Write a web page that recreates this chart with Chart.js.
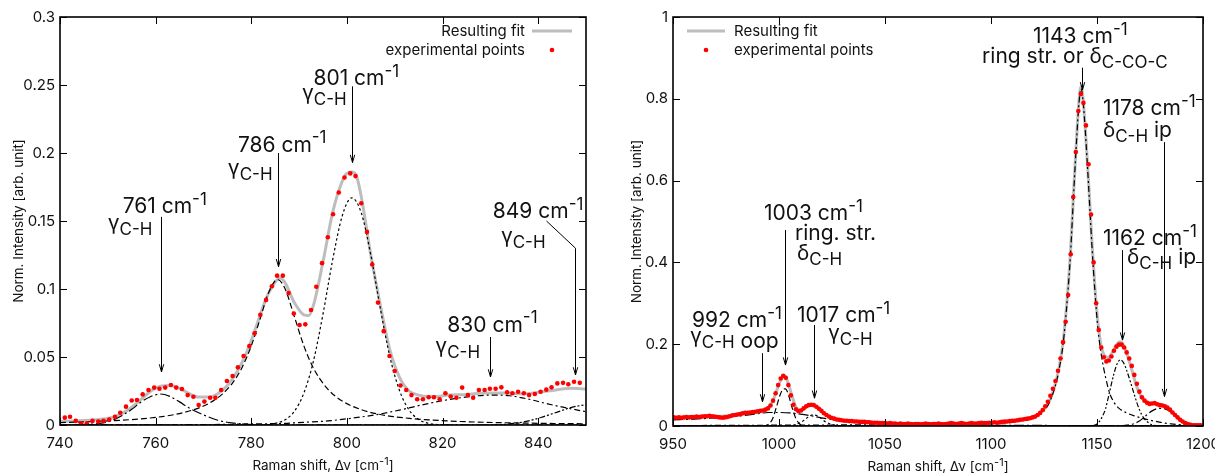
<!DOCTYPE html>
<html lang="en">
<head>
<meta charset="utf-8">
<title>Raman band fit</title>
<script src="https://cdn.jsdelivr.net/npm/chart.js@4.4.1/dist/chart.umd.min.js"></script>
<style>
  html, body { margin: 0; padding: 0; background: #fff; }
  #wrap { position: relative; width: 1215px; height: 475px; overflow: hidden; }
  #c1 { position: absolute; left: 0; top: 0; }
  #c2 { position: absolute; left: 607px; top: 0; }
</style>
</head>
<body>
<div id="wrap">
  <canvas id="c1" width="607" height="475"></canvas>
  <canvas id="c2" width="608" height="475"></canvas>
</div>
<script>
/* ═══════════════════════════════════════════════
   Raman shift fits — two panels (740–850, 950–1200 cm-1)
   experimental points, resulting fit and fitted bands
═══════════════════════════════════════════════ */

const FONT = 'Inter, "Noto Sans", sans-serif';
const INK  = '#111';
const NOTE_SIZE = 21;

// ── Left panel: axes ─────────────────────────────────────────
const leftXRange  = [740, 850];
const leftYRange  = [0, 0.3];
const leftXTicks  = [740, 760, 780, 800, 820, 840];
const leftXLabels = ['740', '760', '780', '800', '820', '840'];
const leftYTicks  = [0, 0.05, 0.1, 0.15, 0.2, 0.25, 0.3];
const leftYLabels = ['0', '0.05', '0.1', '0.15', '0.2', '0.25', '0.3'];

// ── Left panel: experimental points ──────────────────────────
const leftExpX = [
  741.0, 742.1, 743.3, 744.4, 745.6, 746.8, 748.0, 749.1, 750.3, 751.5,
  752.6, 753.8, 755.0, 756.1, 757.3, 758.5, 759.7, 760.8, 762.0, 763.2,
  764.3, 765.5, 766.7, 767.9, 769.0, 770.2, 771.4, 772.5, 773.7, 774.9,
  776.1, 777.2, 778.4, 779.6, 780.7, 781.9, 783.1, 784.3, 785.4, 786.6,
  787.8, 788.9, 790.1, 791.3, 792.5, 793.6, 794.8, 796.0, 797.1, 798.3,
  799.5, 800.7, 801.8, 803.0, 804.2, 805.3, 806.5, 807.7, 808.9, 810.0,
  811.2, 812.4, 813.5, 814.7, 815.9, 817.1, 818.2, 819.4, 820.6, 821.7,
  822.9, 824.1, 825.3, 826.4, 827.6, 828.8, 829.9, 831.1, 832.3, 833.5,
  834.6, 835.8, 837.0, 838.1, 839.3, 840.5, 841.7, 842.8, 844.0, 845.2,
  846.3, 847.5, 848.7
];
const leftExpY = [
  0.0054, 0.0061, 0.0030, 0.0012, 0.0012, 0.0030, 0.0025, 0.0030, 0.0040, 0.0060,
  0.0090, 0.0135, 0.0180, 0.0184, 0.0225, 0.0257, 0.0275, 0.0267, 0.0275, 0.0294,
  0.0275, 0.0265, 0.0220, 0.0208, 0.0147, 0.0172, 0.0200, 0.0200, 0.0257, 0.0324,
  0.0360, 0.0424, 0.0507, 0.0580, 0.0674, 0.0810, 0.0920, 0.1020, 0.1098, 0.1098,
  0.0970, 0.0820, 0.0735, 0.0740, 0.0846, 0.1017, 0.1190, 0.1380, 0.1550, 0.1710,
  0.1820, 0.1850, 0.1830, 0.1630, 0.1420, 0.1180, 0.0900, 0.0690, 0.0507, 0.0397,
  0.0290, 0.0257, 0.0220, 0.0189, 0.0189, 0.0204, 0.0204, 0.0189, 0.0233, 0.0210,
  0.0200, 0.0275, 0.0220, 0.0200, 0.0257, 0.0257, 0.0267, 0.0267, 0.0277, 0.0240,
  0.0233, 0.0245, 0.0233, 0.0220, 0.0228, 0.0245, 0.0260, 0.0277, 0.0306, 0.0310,
  0.0300, 0.0318, 0.0310
];

// ── Left panel: resulting fit ────────────────────────────────
const leftFitX = [
  740, 743, 746, 749, 751, 753, 755, 757, 759, 761,
  763, 765, 767, 769, 771, 773, 775, 777, 779, 781,
  783, 785, 786, 787, 789, 791, 792, 793, 795, 797,
  799, 800, 801, 802, 803, 805, 807, 809, 811, 813,
  815, 817, 819, 821, 825, 829, 833, 837, 841, 844,
  847, 850
];
const leftFitY = [
  0.0025, 0.003, 0.0035, 0.0045, 0.0055, 0.0085, 0.013, 0.019, 0.025, 0.0285,
  0.029, 0.027, 0.023, 0.0205, 0.0205, 0.023, 0.029, 0.039, 0.053, 0.072,
  0.092, 0.105, 0.108, 0.105, 0.090, 0.081, 0.0805, 0.088, 0.120, 0.156,
  0.179, 0.185, 0.186, 0.183, 0.168, 0.125, 0.088, 0.055, 0.035, 0.025,
  0.022, 0.021, 0.021, 0.022, 0.0225, 0.0235, 0.0235, 0.023, 0.0245, 0.026,
  0.027, 0.0265
];

// ── Left panel: fitted bands ─────────────────────────────────
const left761X = [740, 742, 746, 749, 751, 753, 755, 757, 759, 761, 763, 765, 767, 769, 771, 773, 775, 778, 782, 786, 850];
const left761Y = [0, 0, 0.0005, 0.0015, 0.0035, 0.007, 0.0115, 0.017, 0.021, 0.0228, 0.021, 0.017, 0.0125, 0.009, 0.006, 0.0035, 0.002, 0.0008, 0.0002, 0, 0];

const left786X = [740, 745, 750, 755, 760, 764, 768, 771, 774, 776, 778, 780, 782, 783.5, 785.5, 787, 789, 791, 793, 796, 799, 803, 807, 813, 821, 831, 841, 850];
const left786Y = [0.0018, 0.0023, 0.003, 0.004, 0.0056, 0.0077, 0.0113, 0.0156, 0.0229, 0.0305, 0.0418, 0.0582, 0.0798, 0.0963, 0.107, 0.1007, 0.0798, 0.0582, 0.0418, 0.0264, 0.0177, 0.0113, 0.0077, 0.0049, 0.003, 0.0018, 0.0012, 0.0009];

const left801X = [740, 781, 783, 785, 787, 789, 791, 793, 795, 797, 799, 801, 803, 805, 807, 809, 811, 813, 815, 817, 819, 822, 850];
const left801Y = [0, 0, 0.0003, 0.0012, 0.0037, 0.010, 0.0235, 0.047, 0.0816, 0.121, 0.1535, 0.167, 0.156, 0.125, 0.0855, 0.050, 0.0254, 0.011, 0.0041, 0.0013, 0.0003, 0, 0];

const left830X = [740, 770, 780, 787, 791, 796, 801, 806, 811, 816, 821, 826, 830, 834, 838, 842, 846, 850];
const left830Y = [0, 0.0003, 0.0008, 0.0012, 0.002, 0.003, 0.005, 0.0075, 0.011, 0.015, 0.0185, 0.021, 0.022, 0.0215, 0.019, 0.0155, 0.0125, 0.0098];

const left849X = [740, 830, 835, 838, 841, 844, 847, 850];
const left849Y = [0, 0, 0.0012, 0.003, 0.006, 0.0095, 0.013, 0.015];

// ── Right panel: axes ────────────────────────────────────────
const rightXRange  = [950, 1200];
const rightYRange  = [0, 1];
const rightXTicks  = [950, 1000, 1050, 1100, 1150, 1200];
const rightXLabels = ['950', '1000', '1050', '1100', '1150', '1200'];
const rightYTicks  = [0, 0.2, 0.4, 0.6, 0.8, 1];
const rightYLabels = ['0', '0.2', '0.4', '0.6', '0.8', '1'];

// ── Right panel: experimental points ─────────────────────────
const rightExpX = [
  950.4, 951.6, 952.8, 954.0, 955.2, 956.4, 957.6, 958.8, 960.0, 961.2,
  962.4, 963.6, 964.8, 966.0, 967.2, 968.4, 969.6, 970.8, 972.0, 973.2,
  974.4, 975.6, 976.8, 978.0, 979.2, 980.4, 981.6, 982.8, 984.0, 985.2,
  986.4, 987.6, 988.8, 990.0, 991.2, 992.4, 993.6, 994.8, 996.0, 997.2,
  998.4, 999.6, 1000.8, 1002.0, 1003.2, 1004.4, 1005.6, 1006.8, 1008.0, 1009.2,
  1010.4, 1011.6, 1012.8, 1014.0, 1015.2, 1016.4, 1017.6, 1018.8, 1020.0, 1021.2,
  1022.4, 1023.6, 1024.8, 1026.0, 1027.2, 1028.4, 1029.6, 1030.8, 1032.0, 1033.2,
  1034.4, 1035.6, 1036.8, 1038.0, 1039.2, 1040.4, 1041.6, 1042.8, 1044.0, 1045.2,
  1046.4, 1047.6, 1048.8, 1050.0, 1051.2, 1052.4, 1053.6, 1054.8, 1056.0, 1057.2,
  1058.4, 1059.6, 1060.8, 1062.0, 1063.2, 1064.4, 1065.6, 1066.8, 1068.0, 1069.2,
  1070.4, 1071.6, 1072.8, 1074.0, 1075.2, 1076.4, 1077.6, 1078.8, 1080.0, 1081.2,
  1082.4, 1083.6, 1084.8, 1086.0, 1087.2, 1088.4, 1089.6, 1090.8, 1092.0, 1093.2,
  1094.4, 1095.6, 1096.8, 1098.0, 1099.2, 1100.4, 1101.6, 1102.8, 1104.0, 1105.2,
  1106.4, 1107.6, 1108.8, 1110.0, 1111.2, 1112.4, 1113.6, 1114.8, 1116.0, 1117.2,
  1118.4, 1119.6, 1120.8, 1122.0, 1123.2, 1124.4, 1125.6, 1126.8, 1128.0, 1129.2,
  1130.4, 1131.6, 1132.8, 1134.0, 1135.2, 1136.4, 1137.6, 1138.8, 1140.0, 1141.2,
  1142.4, 1143.6, 1144.8, 1146.0, 1147.2, 1148.4, 1149.6, 1150.8, 1152.0, 1153.2,
  1154.4, 1155.6, 1156.8, 1158.0, 1159.2, 1160.4, 1161.6, 1162.8, 1164.0, 1165.2,
  1166.4, 1167.6, 1168.8, 1170.0, 1171.2, 1172.4, 1173.6, 1174.8, 1176.0, 1177.2,
  1178.4, 1179.6, 1180.8, 1182.0, 1183.2, 1184.4, 1185.6, 1186.8, 1188.0, 1189.2,
  1190.4, 1191.6, 1192.8, 1194.0, 1195.2, 1196.4, 1197.6, 1198.8
];
const rightExpY = [
  0.021, 0.020, 0.021, 0.020, 0.021, 0.022, 0.021, 0.022, 0.022, 0.023,
  0.022, 0.023, 0.024, 0.024, 0.025, 0.024, 0.023, 0.022, 0.021, 0.020,
  0.021, 0.022, 0.024, 0.026, 0.027, 0.028, 0.029, 0.031, 0.032, 0.032,
  0.033, 0.034, 0.035, 0.036, 0.037, 0.038, 0.040, 0.043, 0.050, 0.062,
  0.080, 0.100, 0.116, 0.123, 0.118, 0.100, 0.075, 0.052, 0.041, 0.036,
  0.038, 0.043, 0.048, 0.051, 0.052, 0.051, 0.047, 0.042, 0.037, 0.031,
  0.027, 0.023, 0.020, 0.018, 0.016, 0.015, 0.014, 0.013, 0.013, 0.012,
  0.012, 0.011, 0.011, 0.010, 0.010, 0.010, 0.009, 0.009, 0.008, 0.008,
  0.008, 0.007, 0.007, 0.007, 0.006, 0.007, 0.006, 0.006, 0.005, 0.006,
  0.005, 0.005, 0.006, 0.005, 0.004, 0.005, 0.005, 0.004, 0.005, 0.006,
  0.005, 0.004, 0.005, 0.005, 0.006, 0.005, 0.004, 0.005, 0.006, 0.007,
  0.006, 0.005, 0.006, 0.007, 0.006, 0.005, 0.006, 0.007, 0.006, 0.006,
  0.007, 0.008, 0.007, 0.007, 0.008, 0.008, 0.009, 0.008, 0.009, 0.010,
  0.011, 0.011, 0.012, 0.013, 0.013, 0.014, 0.015, 0.016, 0.017, 0.018,
  0.019, 0.021, 0.023, 0.027, 0.032, 0.039, 0.048, 0.059, 0.074, 0.091,
  0.110, 0.135, 0.165, 0.205, 0.255, 0.320, 0.420, 0.560, 0.670, 0.770,
  0.812, 0.790, 0.735, 0.640, 0.517, 0.400, 0.300, 0.235, 0.192, 0.168,
  0.158, 0.160, 0.170, 0.184, 0.194, 0.199, 0.199, 0.192, 0.180, 0.165,
  0.147, 0.125, 0.103, 0.084, 0.070, 0.062, 0.057, 0.054, 0.055, 0.056,
  0.053, 0.051, 0.050, 0.048, 0.045, 0.040, 0.033, 0.027, 0.021, 0.015,
  0.011, 0.007, 0.005, 0.003, 0.002, 0.002, 0.002, 0.002
];

// ── Right panel: resulting fit ───────────────────────────────
const rightFitX = [
  950, 960, 970, 980, 985, 990, 993, 995, 997, 999,
  1001, 1002.5, 1004, 1006, 1008, 1010, 1012, 1014, 1016, 1018,
  1020, 1022, 1025, 1030, 1040, 1050, 1070, 1090, 1100, 1110,
  1115, 1120, 1124, 1127, 1130, 1132, 1134, 1136, 1137.5, 1139,
  1140.5, 1141.5, 1142.5, 1143.5, 1144.5, 1146, 1147.5, 1149, 1150.5, 1152,
  1154, 1155.5, 1157, 1159, 1160.8, 1162.5, 1164, 1166, 1168, 1170,
  1172, 1174, 1176, 1178, 1180, 1182, 1184, 1186, 1188, 1190,
  1193, 1196, 1200
];
const rightFitY = [
  0.018, 0.021, 0.023, 0.027, 0.031, 0.035, 0.039, 0.045, 0.060, 0.088,
  0.114, 0.123, 0.110, 0.076, 0.046, 0.039, 0.044, 0.050, 0.051, 0.047,
  0.038, 0.028, 0.019, 0.014, 0.010, 0.007, 0.006, 0.006, 0.008, 0.011,
  0.015, 0.022, 0.035, 0.055, 0.097, 0.14, 0.205, 0.315, 0.425, 0.575,
  0.715, 0.795, 0.83, 0.795, 0.725, 0.6, 0.46, 0.34, 0.25, 0.195,
  0.17, 0.168, 0.178, 0.197, 0.206, 0.198, 0.178, 0.145, 0.108, 0.080,
  0.064, 0.058, 0.055, 0.054, 0.052, 0.049, 0.042, 0.032, 0.022, 0.013,
  0.006, 0.003, 0.002
];

// ── Right panel: fitted bands ────────────────────────────────
const right992X = [950, 960, 970, 980, 990, 995, 1000, 1005, 1010, 1015, 1020, 1030, 1040, 1050, 1070, 1100, 1150, 1200];
const right992Y = [0.015, 0.017, 0.020, 0.024, 0.030, 0.033, 0.033, 0.032, 0.029, 0.025, 0.020, 0.013, 0.009, 0.006, 0.004, 0.002, 0.001, 0.0005];

const right1003X = [950, 993, 995, 997, 999, 1000.5, 1002, 1003, 1004.5, 1006, 1008, 1010, 1012, 1200];
const right1003Y = [0, 0, 0.004, 0.018, 0.050, 0.076, 0.090, 0.091, 0.076, 0.048, 0.018, 0.004, 0, 0];

const right1017X = [950, 1004, 1007, 1010, 1012, 1014, 1016, 1018, 1020, 1022, 1025, 1028, 1032, 1200];
const right1017Y = [0, 0, 0.002, 0.008, 0.015, 0.023, 0.027, 0.025, 0.018, 0.010, 0.004, 0.001, 0, 0];

const right1143X = [950, 1000, 1050, 1080, 1100, 1110, 1115, 1120, 1124, 1127, 1130, 1132, 1134, 1136, 1137.5, 1139, 1140.5, 1141.5, 1142.5, 1143.5, 1144.5, 1146, 1147.5, 1149, 1150.5, 1152, 1154, 1156, 1158, 1160, 1164, 1168, 1172, 1176, 1180, 1185, 1190, 1200];
const right1143Y = [0.001, 0.002, 0.003, 0.004, 0.006, 0.009, 0.013, 0.020, 0.033, 0.052, 0.092, 0.135, 0.200, 0.310, 0.420, 0.570, 0.710, 0.790, 0.825, 0.790, 0.720, 0.590, 0.450, 0.330, 0.235, 0.175, 0.120, 0.080, 0.058, 0.045, 0.032, 0.024, 0.018, 0.013, 0.009, 0.005, 0.003, 0.001];

const right1162X = [950, 1146, 1150, 1152, 1154, 1156, 1158, 1159.5, 1161, 1162.5, 1164, 1166, 1168, 1170, 1172, 1174, 1176, 1179, 1185, 1200];
const right1162Y = [0, 0, 0.005, 0.018, 0.042, 0.085, 0.128, 0.152, 0.162, 0.155, 0.136, 0.104, 0.070, 0.040, 0.020, 0.009, 0.003, 0.0005, 0, 0];

const right1178X = [950, 1160, 1164, 1167, 1170, 1173, 1176, 1179, 1182, 1185, 1188, 1191, 1194, 1197, 1200];
const right1178Y = [0, 0, 0.002, 0.005, 0.012, 0.025, 0.037, 0.043, 0.042, 0.034, 0.021, 0.009, 0.003, 0.001, 0];

// ── Band labels (text anchors and arrows in data units) ─────
const leftNotes = [
  { lines: [ { x: 753.1, y: 0.1556, segs: [['761 cm'], ['-1', 'sup']] },
             { x: 750.0, y: 0.1434, segs: [['γ'], ['C-H', 'sub']] } ],
    arrow: [[761.1, 0.153], [761.1, 0.039]] },
  { lines: [ { x: 777.2, y: 0.201, segs: [['786 cm'], ['-1', 'sup']] },
             { x: 775.1, y: 0.1838, segs: [['γ'], ['C-H', 'sub']] } ],
    arrow: [[785.6, 0.200], [785.6, 0.1164]] },
  { lines: [ { x: 793.0, y: 0.250, segs: [['801 cm'], ['-1', 'sup']] },
             { x: 790.6, y: 0.239, segs: [['γ'], ['C-H', 'sub']] } ],
    arrow: [[801.1, 0.249], [801.1, 0.193]] },
  { lines: [ { x: 830.5, y: 0.152, segs: [['849 cm'], ['-1', 'sup']] },
             { x: 832.2, y: 0.1338, segs: [['γ'], ['C-H', 'sub']] } ],
    arrow: [[841.6, 0.150], [847.6, 0.130], [847.6, 0.0368]] },
  { lines: [ { x: 821.0, y: 0.0686, segs: [['830 cm'], ['-1', 'sup']] },
             { x: 818.5, y: 0.0529, segs: [['γ'], ['C-H', 'sub']] } ],
    arrow: [[830.0, 0.0647], [830.0, 0.0353]] }
];

const rightNotes = [
  { lines: [ { x: 1119.8, y: 0.936, segs: [['1143 cm'], ['-1', 'sup']] },
             { x: 1095.8, y: 0.8875, segs: [['ring str. or δ'], ['C-CO-C', 'sub']] } ],
    arrow: [[1142.8, 0.876], [1142.8, 0.822]] },
  { lines: [ { x: 1152.8, y: 0.760, segs: [['1178 cm'], ['-1', 'sup']] },
             { x: 1152.8, y: 0.7066, segs: [['δ'], ['C-H', 'sub'], [' ip']] } ],
    arrow: [[1181.6, 0.694], [1181.6, 0.072]] },
  { lines: [ { x: 1152.8, y: 0.4425, segs: [['1162 cm'], ['-1', 'sup']] },
             { x: 1164.2, y: 0.396, segs: [['δ'], ['C-H', 'sub'], [' ip']] } ],
    arrow: [[1161.6, 0.430], [1161.6, 0.210]] },
  { lines: [ { x: 992.9, y: 0.5037, segs: [['1003 cm'], ['-1', 'sup']] },
             { x: 1007.5, y: 0.4548, segs: [['ring. str.']] },
             { x: 1008.5, y: 0.406, segs: [['δ'], ['C-H', 'sub']] } ],
    arrow: [[1002.8, 0.479], [1002.8, 0.149]] },
  { lines: [ { x: 959.0, y: 0.242, segs: [['992 cm'], ['-1', 'sup']] },
             { x: 958.0, y: 0.203, segs: [['γ'], ['C-H', 'sub'], [' oop', 'low']] } ],
    arrow: [[992.1, 0.178], [992.1, 0.059]] },
  { lines: [ { x: 1008.5, y: 0.254, segs: [['1017 cm'], ['-1', 'sup']] },
             { x: 1023.1, y: 0.210, segs: [['γ'], ['C-H', 'sub']] } ],
    arrow: [[1016.7, 0.247], [1016.7, 0.068]] }
];

// ── Helpers ──────────────────────────────────────────────────

function points(xs, ys) {
  return xs.map((x, i) => ({ x: x, y: ys[i] }));
}

function bandSet(xs, ys, dash) {
  return {
    data: points(xs, ys),
    showLine: true,
    borderColor: '#000',
    borderWidth: 1.2,
    borderDash: dash,
    pointRadius: 0,
    cubicInterpolationMode: 'monotone',
    order: 1
  };
}

function fitSet(xs, ys) {
  return {
    label: 'Resulting fit',
    legendRank: 0,
    data: points(xs, ys),
    showLine: true,
    borderColor: '#bdbdbd',
    borderWidth: 3,
    pointRadius: 0,
    cubicInterpolationMode: 'monotone',
    order: 2
  };
}

function expSet(xs, ys) {
  return {
    label: 'experimental points',
    legendRank: 1,
    data: points(xs, ys),
    showLine: false,
    pointRadius: 2.3,
    backgroundColor: '#ff0000',
    borderWidth: 0,
    order: 0
  };
}

/**
 * Text with gnuplot-like sub/superscripts.
 * segs = [[text, kind], ...] where kind is 'sub', 'sup', 'low' (full size, sub baseline) or empty
 */
function drawRich(ctx, segs, x, y, size, align) {
  const small = Math.round(size * 0.82);
  const parts = segs.map(s => ({ t: s[0], k: s[1], fs: (s[1] === 'sub' || s[1] === 'sup') ? small : size }));
  let w = 0;
  parts.forEach(p => { ctx.font = p.fs + 'px ' + FONT; p.w = ctx.measureText(p.t).width; w += p.w; });
  let cx = align === 'center' ? x - w / 2 : align === 'right' ? x - w : x;
  ctx.textAlign = 'left';
  ctx.textBaseline = 'alphabetic';
  parts.forEach(p => {
    ctx.font = p.fs + 'px ' + FONT;
    const dy = (p.k === 'sub' || p.k === 'low') ? size * 0.25 : p.k === 'sup' ? -size * 0.4 : 0;
    ctx.fillText(p.t, cx, y + dy);
    cx += p.w;
  });
}

// Frame, inward ticks, labels, legend and band notes
function makeDecor(cfg) {
  return {
    id: 'decor',
    afterDatasetsDraw(chart) {
      const { ctx, chartArea: a } = chart;
      const X = v => chart.scales.x.getPixelForValue(v);
      const Y = v => chart.scales.y.getPixelForValue(v);
      ctx.save();
      ctx.setLineDash([]);
      ctx.strokeStyle = '#000';

      // ticks on all four sides, pointing in
      ctx.lineWidth = 1;
      ctx.beginPath();
      cfg.xTicks.forEach(v => {
        const px = Math.round(X(v)) + 0.5;
        ctx.moveTo(px, a.bottom); ctx.lineTo(px, a.bottom - 7);
        ctx.moveTo(px, a.top);    ctx.lineTo(px, a.top + 7);
      });
      cfg.yTicks.forEach(v => {
        const py = Math.round(Y(v)) + 0.5;
        ctx.moveTo(a.left, py);  ctx.lineTo(a.left + 7, py);
        ctx.moveTo(a.right, py); ctx.lineTo(a.right - 7, py);
      });
      ctx.stroke();
      ctx.lineWidth = 1.6;
      ctx.strokeRect(a.left, a.top, a.right - a.left, a.bottom - a.top);

      // tick labels
      ctx.fillStyle = INK;
      ctx.font = '15px ' + FONT;
      ctx.textAlign = 'center';
      ctx.textBaseline = 'alphabetic';
      cfg.xTicks.forEach((v, i) => ctx.fillText(cfg.xLabels[i], X(v), a.bottom + 23));
      ctx.textAlign = 'right';
      ctx.textBaseline = 'middle';
      cfg.yTicks.forEach((v, i) => ctx.fillText(cfg.yLabels[i], a.left - 5, Y(v)));

      // axis titles
      drawRich(ctx, [['Raman shift, Δν [cm'], ['-1', 'sup'], [']']], (a.left + a.right) / 2, a.bottom + 45, 13.5, 'center');
      ctx.save();
      ctx.translate(cfg.titleX, (a.top + a.bottom) / 2);
      ctx.rotate(-Math.PI / 2);
      ctx.font = '13.5px ' + FONT;
      ctx.textAlign = 'center';
      ctx.textBaseline = 'middle';
      ctx.fillText('Norm. Intensity [arb. unit]', 0, 0);
      ctx.restore();

      // legend: fit first, then points
      const items = chart.data.datasets
        .filter(d => d.legendRank !== undefined)
        .sort((p, q) => p.legendRank - q.legendRank);
      items.forEach((d, i) => {
        const yy = cfg.legend.y + i * cfg.legend.dy;
        ctx.fillStyle = INK;
        ctx.font = '15px ' + FONT;
        ctx.textBaseline = 'middle';
        ctx.textAlign = cfg.legend.align;
        ctx.fillText(d.label, cfg.legend.textX, yy);
        if (d.showLine) {
          ctx.strokeStyle = d.borderColor;
          ctx.lineWidth = d.borderWidth;
          ctx.beginPath();
          ctx.moveTo(cfg.legend.s1, yy); ctx.lineTo(cfg.legend.s2, yy);
          ctx.stroke();
        } else {
          ctx.fillStyle = d.backgroundColor;
          ctx.beginPath();
          ctx.arc((cfg.legend.s1 + cfg.legend.s2) / 2, yy, d.pointRadius, 0, Math.PI * 2);
          ctx.fill();
        }
      });

      // band notes with arrows
      ctx.strokeStyle = '#000';
      ctx.lineWidth = 1;
      cfg.notes.forEach(n => {
        ctx.fillStyle = INK;
        n.lines.forEach(l => drawRich(ctx, l.segs, X(l.x), Y(l.y), NOTE_SIZE));
        const p = n.arrow.map(q => [Math.round(X(q[0])) + 0.5, Y(q[1])]);
        ctx.beginPath();
        ctx.moveTo(p[0][0], p[0][1]);
        p.slice(1).forEach(q => ctx.lineTo(q[0], q[1]));
        ctx.stroke();
        const [tx, ty] = p[p.length - 1];
        const [fx, fy] = p[p.length - 2];
        const ang = Math.atan2(ty - fy, tx - fx);
        ctx.beginPath();
        [-1, 1].forEach(s => {
          ctx.moveTo(tx, ty);
          ctx.lineTo(tx - 8 * Math.cos(ang + s * 0.28), ty - 8 * Math.sin(ang + s * 0.28));
        });
        ctx.stroke();
      });
      ctx.restore();
    }
  };
}

function makeChart(id, sets, xr, yr, pad, decor) {
  return new Chart(document.getElementById(id), {
    type: 'scatter',
    data: { datasets: sets },
    options: {
      responsive: false,
      animation: false,
      events: [],
      layout: { padding: pad },
      plugins: { legend: { display: false }, tooltip: { enabled: false } },
      scales: {
        x: { type: 'linear', min: xr[0], max: xr[1], display: false },
        y: { type: 'linear', min: yr[0], max: yr[1], display: false }
      }
    },
    plugins: [makeDecor(decor)]
  });
}

// ── Left chart ───────────────────────────────────────────────
makeChart('c1', [
  expSet(leftExpX, leftExpY),
  bandSet(left761X, left761Y, [10, 3, 2, 3]),
  bandSet(left786X, left786Y, [6, 3]),
  bandSet(left801X, left801Y, [2.5, 2.5]),
  bandSet(left830X, left830Y, [6, 3, 2, 3]),
  bandSet(left849X, left849Y, [6, 2, 2, 2, 2, 2]),
  fitSet(leftFitX, leftFitY)
], leftXRange, leftYRange, { left: 60, right: 21, top: 17, bottom: 50 }, {
  xTicks: leftXTicks, xLabels: leftXLabels, yTicks: leftYTicks, yLabels: leftYLabels,
  titleX: 19,
  legend: { align: 'right', textX: 525, s1: 532, s2: 572, y: 31, dy: 19 },
  notes: leftNotes
});

// ── Right chart ──────────────────────────────────────────────
makeChart('c2', [
  expSet(rightExpX, rightExpY),
  bandSet(right992X, right992Y, [10, 3, 2, 3]),
  bandSet(right1003X, right1003Y, [6, 3]),
  bandSet(right1017X, right1017Y, [2.5, 2.5]),
  bandSet(right1143X, right1143Y, [6, 3, 2, 3]),
  bandSet(right1162X, right1162Y, [5, 2, 2, 2, 2, 2]),
  bandSet(right1178X, right1178Y, [8, 3, 2, 3]),
  fitSet(rightFitX, rightFitY)
], rightXRange, rightYRange, { left: 66, right: 12, top: 17, bottom: 49 }, {
  xTicks: rightXTicks, xLabels: rightXLabels, yTicks: rightYTicks, yLabels: rightYLabels,
  titleX: 30,
  legend: { align: 'left', textX: 127, s1: 80, s2: 118, y: 31, dy: 19 },
  notes: rightNotes
});
</script>
</body>
</html>
